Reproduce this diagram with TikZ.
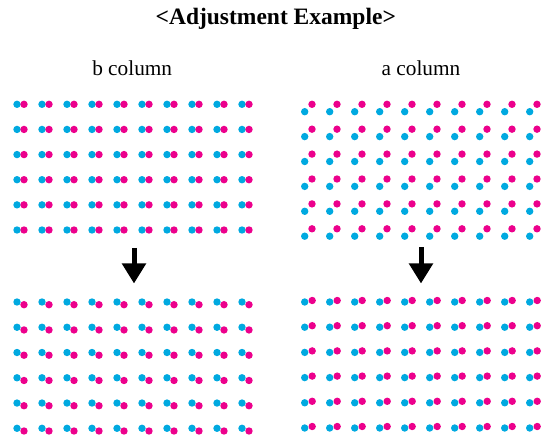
\documentclass[tikz,border=0pt]{standalone}
\usepackage{fontspec}
\setmainfont{Liberation Serif}
\usepackage{xcolor}
\usepackage{tikz}
\usetikzlibrary{arrows.meta}
\definecolor{dotcyan}{RGB}{0,169,224}
\definecolor{dotmag}{RGB}{236,0,140}
\tikzset{
  cdot/.style={fill=dotcyan},
  mdot/.style={fill=dotmag},
  lbl/.style={anchor=base,font=\fontsize{21.3}{25}\selectfont},
  ttl/.style={anchor=base,font=\fontsize{23.5}{28}\selectfont\bfseries},
  bigarr/.style={-{Triangle[length=20pt,width=23pt]},line width=5pt},
}
% one grid of dot pairs: x0, y0, row step, magenta dx, magenta dy
\newcommand{\pairgrid}[5]{%
  \foreach \i in {0,...,9}{
    \foreach \j in {0,...,5}{
      \fill[cdot] ({#1+25*\i},{#2+#3*\j}) circle[radius=3.7pt];
      \fill[mdot] ({#1+25*\i+#4},{#2+#3*\j+#5}) circle[radius=3.7pt];
    }
  }%
}

\begin{document}
\begin{tikzpicture}[x=1pt,y=-1pt]
\useasboundingbox (0,0) rectangle (541,443);
\node[ttl] (title) at (275.8,25) {<Adjustment Example>};
\node[lbl] (bcol) at (132.2,75.7) {b column};
\node[lbl] (acol) at (421,75.7) {a column};
% before
\pairgrid{17}{104.3}{25.14}{7}{0}
\pairgrid{304.7}{111.7}{24.9}{7.3}{-7.4}
% after
\pairgrid{17}{302}{25.26}{7}{2.7}
\pairgrid{304.7}{302}{25.2}{7.5}{-1.5}
\coordinate (bfrom) at (134,248);
\coordinate (bto) at (134,283.5);
\coordinate (afrom) at (421,247.5);
\coordinate (ato) at (421,283.5);
\draw[bigarr] (bfrom) -- (bto);
\draw[bigarr] (afrom) -- (ato);
\end{tikzpicture}
\end{document}
